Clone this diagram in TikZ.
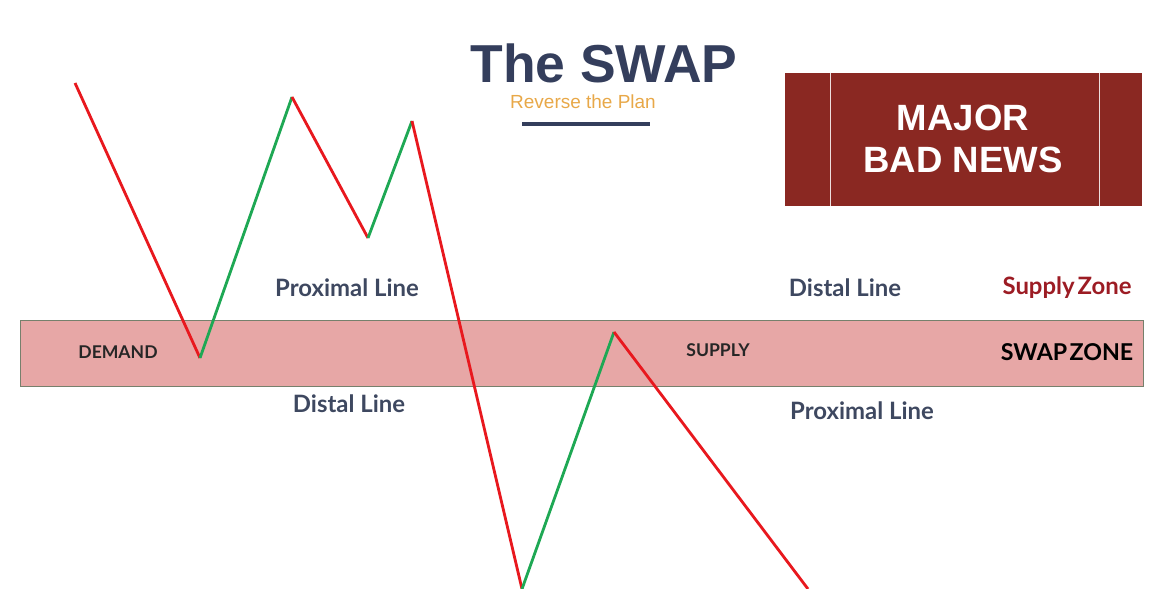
\documentclass[tikz,border=0pt]{standalone}
\usepackage{fontspec}
\setmainfont{Liberation Sans}
\newfontfamily\latofont{Lato}
\usetikzlibrary{positioning}
\definecolor{titleink}{RGB}{52,62,92}
\definecolor{planorange}{RGB}{232,168,72}
\definecolor{newsred}{RGB}{138,40,34}
\definecolor{zonepink}{RGB}{231,167,166}
\definecolor{zoneedge}{RGB}{118,128,108}
\definecolor{lineink}{RGB}{62,72,96}
\definecolor{supplyred}{RGB}{156,28,36}
\definecolor{downred}{RGB}{232,24,30}
\definecolor{upgreen}{RGB}{30,168,84}

\begin{document}
\begin{tikzpicture}[x=0.025cm, y=-0.025cm,
      lbl/.style={font=\latofont\bfseries\fontsize{17}{18}\selectfont, text=lineink, inner sep=0pt},
      tag/.style={font=\latofont\bfseries\fontsize{12.5}{14}\selectfont, text=black!85, inner sep=0pt},
      down/.style={draw=downred, line width=2pt},
      up/.style={draw=upgreen, line width=2pt}]
    \useasboundingbox (0,0) rectangle (1154,589);
    % zone band
    \node[draw=zoneedge, fill=zonepink, line width=0.6pt, minimum width=1123*0.025cm, minimum height=66*0.025cm, inner sep=0pt] (zone) at (581.5,353) {};
    % title
    \node[font=\bfseries\fontsize{38}{40}\selectfont, text=titleink, inner sep=0pt] (title) at (604,63) {The SWAP};
    \node[font=\fontsize{13.5}{15}\selectfont, text=planorange, inner sep=0pt] (plan) at (583,102) {Reverse the Plan};
    \coordinate (ulA) at (522,124);
    \coordinate (ulB) at (650,124);
    \draw[titleink, line width=2.2pt] (ulA) -- (ulB);
    % news box
    \node[fill=newsred, minimum width=357*0.025cm, minimum height=133*0.025cm, inner sep=0pt] (news) at (963.5,139.5) {};
    \coordinate (barA) at (830,73);
    \coordinate (barB) at (830,206);
    \coordinate (barC) at (1099,73);
    \coordinate (barD) at (1099,206);
    \draw[white!85!newsred, line width=0.5pt] (barA) -- (barB) (barC) -- (barD);
    \node[font=\bfseries\fontsize{26}{30}\selectfont, text=white, align=center, inner sep=0pt] (headline) at (963,139) {MAJOR\\BAD NEWS};
    % labels
    \node[lbl] (proxL) at (347,288) {Proximal Line};
    \node[lbl] (distR) at (845,288) {Distal Line};
    \node[lbl, text=supplyred] (szone) at (1067,288) {Supply\hspace{0.12em}Zone};
    \node[lbl] (distL) at (349,404) {Distal Line};
    \node[lbl] (proxR) at (862,411) {Proximal Line};
    \node[tag] (demand) at (118,352) {DEMAND};
    \node[tag] (supply) at (718,350) {SUPPLY};
    \node[tag, font=\latofont\bfseries\fontsize{16.5}{18}\selectfont, text=black] (swap) at (1067,352) {SWAP\hspace{0.1em}ZONE};
    % price path
    \coordinate (p0) at (75,83);
    \coordinate (p1) at (200,358);
    \coordinate (p2) at (292,97);
    \coordinate (p3) at (368,238);
    \coordinate (p4) at (412,121);
    \coordinate (p5) at (522,589);
    \coordinate (p6) at (614,332);
    \coordinate (p7) at (808,589);
    \draw[down] (p0) -- (p1);
    \draw[up] (p1) -- (p2);
    \draw[down] (p2) -- (p3);
    \draw[up] (p3) -- (p4);
    \draw[down] (p4) -- (p5);
    \draw[up] (p5) -- (p6);
    \draw[down] (p6) -- (p7);
  \end{tikzpicture}
\end{document}
